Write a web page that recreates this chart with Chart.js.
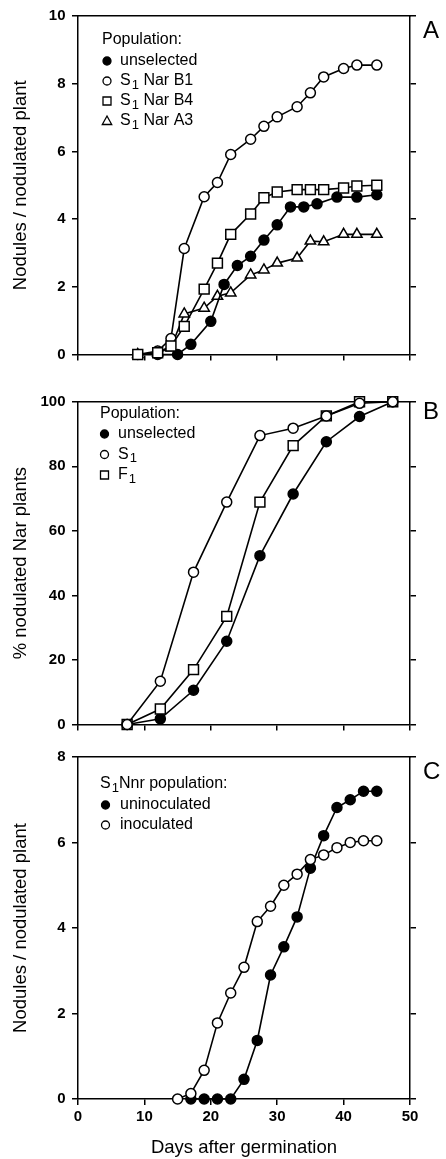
<!DOCTYPE html>
<html>
<head>
<meta charset="utf-8">
<script src="https://cdn.jsdelivr.net/npm/chart.js@4.4.1/dist/chart.umd.min.js"></script>
<style>
  html, body { margin: 0; padding: 0; background: #fff; }
  body { width: 446px; height: 1159px; position: relative; overflow: hidden; }
  .panel { position: absolute; left: 0; width: 446px; }
</style>
</head>
<body>
<div class="panel" style="top:0"><canvas id="chartA" width="446" height="370"></canvas></div>
<div class="panel" style="top:380px"><canvas id="chartB" width="446" height="360"></canvas></div>
<div class="panel" style="top:740px"><canvas id="chartC" width="446" height="419"></canvas></div>
<script>
// Panel A: nodules per nodulated plant
const daysA = [9, 12, 14, 16, 19, 21, 23, 26, 28, 30, 33, 35, 37, 40, 42, 45];
const daysAUnselected = [12, 15, 17, 20, 22, 24, 26, 28, 30, 32, 34, 36, 39, 42, 45];
const nodAUnselected = [0, 0, 0.3, 0.98, 2.07, 2.63, 2.9, 3.38, 3.83, 4.36, 4.36, 4.45, 4.65, 4.65, 4.72];
const nodANarB1 = [0, 0.1, 0.47, 3.13, 4.66, 5.08, 5.91, 6.36, 6.74, 7.02, 7.32, 7.73, 8.2, 8.45, 8.55, 8.55];
const nodANarB4 = [0, 0.05, 0.25, 0.83, 1.93, 2.7, 3.55, 4.15, 4.63, 4.8, 4.87, 4.87, 4.87, 4.92, 4.98, 5.0];
const nodANarA3 = [0, 0.05, 0.2, 1.2, 1.37, 1.72, 1.82, 2.35, 2.5, 2.7, 2.85, 3.35, 3.33, 3.55, 3.55, 3.55];

// Panel B: % nodulated Nar plants
const daysB = [7.4, 12.4, 17.4, 22.4, 27.4, 32.4, 37.4, 42.4, 47.4];
const pctBUnselected = [0, 1.75, 10.6, 25.8, 52.3, 71.4, 87.6, 95.4, 100];
const pctBS1 = [0, 13.4, 47.2, 68.9, 89.5, 91.8, 95.6, 99.5, 100];
const pctBF1 = [0, 4.8, 17.0, 33.5, 68.9, 86.4, 95.6, 100, 100];

// Panel C: S1 Nnr population
const daysCUninoc = [17, 19, 21, 23, 25, 27, 29, 31, 33, 35, 37, 39, 41, 43, 45];
const nodCUninoc = [0, 0, 0, 0, 0.46, 1.37, 2.9, 3.56, 4.26, 5.4, 6.16, 6.82, 7.0, 7.2, 7.2];
const daysCInoc = [15, 17, 19, 21, 23, 25, 27, 29, 31, 33, 35, 37, 39, 41, 43, 45];
const nodCInoc = [0, 0.13, 0.67, 1.78, 2.48, 3.08, 4.15, 4.51, 5.0, 5.26, 5.6, 5.71, 5.88, 6.0, 6.04, 6.04];

const FONT = '"Liberation Sans", Arial, Helvetica, sans-serif';

const pts = (xs, ys) => xs.map((x, i) => ({ x: x, y: ys[i] }));

// line + marker dataset
const series = (label, xs, ys, style, filled, order) => ({
    label: label,
    data: pts(xs, ys),
    order: order,
    showLine: true,
    borderColor: '#000',
    borderWidth: 1.6,
    pointStyle: style,
    pointRadius: style === 'rect' ? 7 : (style === 'triangle' ? 6 : 5),
    pointBorderWidth: 1.5,
    pointBorderColor: '#000',
    pointBackgroundColor: filled ? '#000' : '#fff',
    backgroundColor: filled ? '#000' : '#fff',
    tension: 0,
    clip: false
});

// draws text, turning ₁ into a lowered smaller 1
function drawRich(ctx, text, x, y, size) {
    for (const ch of text) {
        if (ch === '₁') {
            ctx.font = (size * 0.82) + 'px ' + FONT;
            ctx.fillText('1', x + 1, y + 4);
            x += ctx.measureText('1').width + 1;
        } else {
            ctx.font = size + 'px ' + FONT;
            ctx.fillText(ch, x, y);
            x += ctx.measureText(ch).width;
        }
    }
}

function drawMarker(ctx, style, fill, x, y) {
    ctx.beginPath();
    if (style === 'rect') {
        ctx.rect(x - 4, y - 4, 8, 8);
    } else if (style === 'triangle') {
        ctx.moveTo(x, y - 5);
        ctx.lineTo(x + 4.7, y + 3.5);
        ctx.lineTo(x - 4.7, y + 3.5);
        ctx.closePath();
    } else {
        ctx.arc(x, y, 4, 0, Math.PI * 2);
    }
    ctx.fillStyle = fill;
    ctx.fill();
    ctx.lineWidth = 1.3;
    ctx.strokeStyle = '#000';
    ctx.stroke();
}

const insetLegend = {
    id: 'insetLegend',
    afterDraw(chart, args, opts) {
        const ctx = chart.ctx;
        const area = chart.chartArea;
        ctx.save();
        ctx.textBaseline = 'middle';
        ctx.fillStyle = '#000';
        let y = area.top + opts.y;
        drawRich(ctx, opts.title, area.left + opts.titleX, y, 16);
        y += opts.firstGap;
        chart.data.datasets.forEach(ds => {
            drawMarker(ctx, ds.pointStyle, ds.pointBackgroundColor, area.left + opts.markerX, y);
            ctx.fillStyle = '#000';
            drawRich(ctx, ds.label, area.left + opts.textX, y, 16);
            y += opts.rowH;
        });
        ctx.restore();
    }
};

const panelLetter = {
    id: 'panelLetter',
    afterDraw(chart, args, opts) {
        const ctx = chart.ctx;
        const area = chart.chartArea;
        ctx.save();
        ctx.font = '24px ' + FONT;
        ctx.fillStyle = '#000';
        ctx.textBaseline = 'middle';
        ctx.fillText(opts.text, area.right + 13, area.top + opts.dy);
        ctx.restore();
    }
};

const tickFont = { family: FONT, size: 15, weight: 'bold' };
const titleFont = { family: FONT, size: 18.5 };
const axisGrid = { drawOnChartArea: false, tickLength: 6, color: '#000', lineWidth: 1.5 };
const axisBorder = { color: '#000', width: 1.5 };

function makeChart(id, datasets, cfg) {
    return new Chart(document.getElementById(id), {
        type: 'scatter',
        data: { datasets: datasets },
        plugins: [insetLegend, panelLetter],
        options: {
            responsive: false,
            animation: false,
            layout: { padding: { top: cfg.padTop, left: 0, right: 0, bottom: 0 } },
            plugins: {
                legend: { display: false },
                tooltip: { enabled: false },
                insetLegend: cfg.legend,
                panelLetter: { text: cfg.letter, dy: cfg.letterDy }
            },
            scales: {
                x: {
                    type: 'linear', position: 'bottom', min: 0, max: 50,
                    ticks: {
                        stepSize: 10, maxRotation: 0, padding: 3, color: '#000', font: tickFont,
                        callback: v => cfg.showX ? v : ''
                    },
                    grid: axisGrid,
                    border: axisBorder,
                    title: {
                        display: cfg.showX, text: 'Days after germination', color: '#000',
                        font: titleFont, padding: { top: 0, bottom: 0 }
                    },
                    afterFit: s => { s.height = cfg.bottomH; }
                },
                xTop: {
                    type: 'linear', position: 'top', min: 0, max: 50,
                    ticks: { display: false },
                    grid: { drawOnChartArea: false, drawTicks: false },
                    border: axisBorder,
                    afterFit: s => { s.height = 0; }
                },
                y: {
                    type: 'linear', position: 'left', min: 0, max: cfg.yMax,
                    ticks: { stepSize: cfg.yStep, padding: 6.5, color: '#000', font: tickFont },
                    grid: axisGrid,
                    border: axisBorder,
                    title: {
                        display: true, text: cfg.yTitle, color: '#000',
                        font: titleFont, padding: { top: 10, bottom: 0 }
                    },
                    afterFit: s => { s.width = 78; }
                },
                yRight: {
                    type: 'linear', position: 'right', min: 0, max: cfg.yMax,
                    ticks: { stepSize: cfg.yStep, padding: 0, callback: () => '' },
                    grid: axisGrid,
                    border: axisBorder,
                    afterFit: s => { s.width = 36; }
                }
            }
        }
    });
}

// lower order is drawn on top
makeChart('chartA', [
    series('unselected', daysAUnselected, nodAUnselected, 'circle', true, 1),
    series('S₁ Nar B1', daysA, nodANarB1, 'circle', false, 2),
    series('S₁ Nar B4', daysA, nodANarB4, 'rect', false, 0),
    series('S₁ Nar A3', daysA, nodANarA3, 'triangle', false, 3)
], {
    padTop: 16, bottomH: 13, showX: false, yMax: 10, yStep: 2,
    yTitle: 'Nodules / nodulated plant', letter: 'A', letterDy: 15,
    legend: { title: 'Population:', titleX: 24, y: 24, firstGap: 21, rowH: 20, markerX: 29, textX: 42 }
});

makeChart('chartB', [
    series('unselected', daysB, pctBUnselected, 'circle', true, 2),
    series('S₁', daysB, pctBS1, 'circle', false, 0),
    series('F₁', daysB, pctBF1, 'rect', false, 1)
], {
    padTop: 21.7, bottomH: 15, showX: false, yMax: 100, yStep: 20,
    yTitle: '% nodulated Nar plants', letter: 'B', letterDy: 11,
    legend: { title: 'Population:', titleX: 22, y: 11.6, firstGap: 20.7, rowH: 20.5, markerX: 26.5, textX: 40 }
});

makeChart('chartC', [
    series('uninoculated', daysCUninoc, nodCUninoc, 'circle', true, 1),
    series('inoculated', daysCInoc, nodCInoc, 'circle', false, 0)
], {
    padTop: 17, bottomH: 60, showX: true, yMax: 8, yStep: 2,
    yTitle: 'Nodules / nodulated plant', letter: 'C', letterDy: 15,
    legend: { title: 'S₁Nnr population:', titleX: 22, y: 27, firstGap: 21, rowH: 20, markerX: 27.5, textX: 42 }
});
</script>
</body>
</html>
